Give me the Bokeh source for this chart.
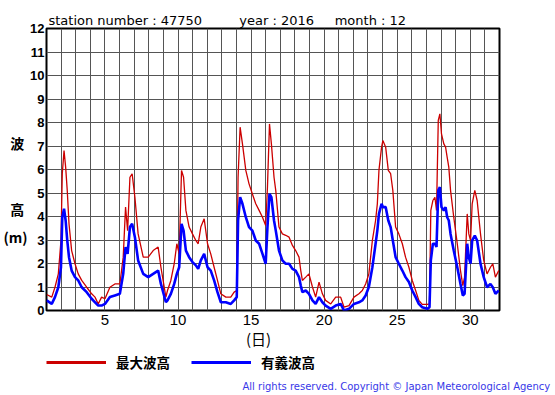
from bokeh.plotting import figure
from bokeh.models import Range1d, FixedTicker, LinearAxis, Legend, LegendItem, Title
from bokeh.layouts import column
from bokeh.embed import file_html
from bokeh.resources import INLINE

# ---- data ----
days = [1.01, 1.36, 1.58, 1.81, 1.99, 2.08, 2.20, 2.31, 2.42, 2.54, 2.72, 2.95, 3.17, 3.41, 3.75, 4.09,
        4.32, 4.54, 4.77, 5.00, 5.34, 5.68, 6.02, 6.25, 6.41, 6.55, 6.71, 6.86, 7.05, 7.27, 7.62, 7.96,
        8.30, 8.64, 8.83, 9.17, 9.28, 9.51, 9.74, 9.92, 10.08, 10.24, 10.38, 10.54, 10.76, 10.99, 11.22,
        11.38, 11.56, 11.79, 12.02, 12.24, 12.47, 12.70, 12.93, 13.27, 13.61, 13.84, 14.02, 14.11, 14.25,
        14.41, 14.64, 14.86, 15.09, 15.32, 15.55, 15.78, 16.00, 16.12, 16.26, 16.39, 16.57, 16.69, 16.91,
        17.14, 17.37, 17.60, 17.83, 18.05, 18.28, 18.40, 18.51, 18.74, 18.96, 19.20, 19.42, 19.65, 19.88,
        20.10, 20.45, 20.79, 21.13, 21.36, 21.70, 22.04, 22.38, 22.61, 22.84, 23.06, 23.30, 23.52, 23.64,
        23.75, 23.93, 24.02, 24.21, 24.39, 24.55, 24.70, 24.89, 25.11, 25.35, 25.57, 25.80, 26.03, 26.26,
        26.48, 26.71, 27.06, 27.21, 27.30, 27.44, 27.58, 27.69, 27.81, 27.92, 28.03, 28.19, 28.31, 28.42,
        28.53, 28.65, 28.87, 29.11, 29.33, 29.49, 29.61, 29.79, 29.90, 30.02, 30.13, 30.31, 30.47, 30.70,
        30.92, 31.15, 31.38, 31.54, 31.72, 31.95]

max_wave = [0.68, 0.57, 0.99, 1.56, 2.98, 5.82, 6.81, 6.10, 5.10, 3.69, 2.55, 1.99, 1.56, 1.28, 0.99, 0.71,
            0.57, 0.28, 0.57, 0.50, 0.99, 1.13, 1.13, 2.27, 4.40, 3.40, 5.67, 5.82, 4.82, 3.26, 2.27, 2.27,
            2.55, 2.70, 1.84, 0.57, 0.85, 1.28, 1.99, 2.84, 2.41, 5.96, 5.67, 4.26, 3.55, 3.26, 2.98,
            2.84, 3.55, 3.90, 2.84, 2.41, 1.84, 1.28, 0.71, 0.57, 0.57, 0.78, 0.85, 5.67, 7.80,
            7.09, 5.96, 5.39, 4.96, 4.54, 4.26, 3.97, 3.62, 5.25, 7.94, 7.09, 5.67, 5.10, 3.55,
            3.26, 3.20, 3.12, 2.77, 2.55, 2.27, 1.70, 1.28, 1.42, 1.56, 1.00, 0.57, 1.21, 0.71,
            0.43, 0.28, 0.57, 0.57, 0.14, 0.21, 0.57, 0.71, 0.85, 1.13, 1.56, 2.98, 3.83, 4.54,
            5.96, 6.95, 7.23, 6.95, 5.96, 5.82, 5.11, 3.55, 3.26, 2.84, 2.27, 1.84, 1.28, 0.85,
            0.43, 0.26, 0.26, 0.28, 4.26, 4.68, 4.82, 4.26, 8.09, 8.37, 7.52, 7.09, 6.95, 6.52,
            6.10, 5.11, 3.97, 2.84, 1.70, 1.06, 1.42, 4.11, 3.26, 2.98, 4.54, 5.11, 4.68, 3.26,
            2.13, 1.56, 1.84, 1.99, 1.42, 1.70]

sig_wave = [0.43, 0.28, 0.57, 0.99, 1.84, 3.97, 4.33, 3.83, 2.98, 2.27, 1.70, 1.42, 1.28, 0.99, 0.78, 0.50,
            0.35, 0.21, 0.21, 0.28, 0.57, 0.64, 0.71, 1.56, 2.70, 2.41, 3.55, 3.69, 3.12, 2.13, 1.56, 1.42,
            1.56, 1.70, 1.13, 0.35, 0.43, 0.71, 1.13, 1.56, 1.84, 3.69, 3.40, 2.55, 2.27, 2.06, 1.92,
            1.77, 2.13, 2.41, 1.84, 1.70, 1.28, 0.78, 0.35, 0.35, 0.28, 0.43, 0.57, 3.83, 4.82,
            4.54, 3.97, 3.55, 3.40, 2.98, 2.84, 2.41, 1.99, 3.55, 4.96, 4.82, 3.83, 3.40, 2.55,
            2.13, 1.99, 1.99, 1.77, 1.70, 1.42, 1.06, 0.78, 0.85, 0.71, 0.43, 0.28, 0.57, 0.35,
            0.21, 0.07, 0.21, 0.28, 0.00, 0.07, 0.28, 0.35, 0.43, 0.64, 1.00, 1.84, 2.84, 3.40,
            4.11, 4.54, 4.40, 4.40, 3.83, 3.55, 2.98, 2.27, 1.99, 1.70, 1.42, 1.21, 0.85, 0.57,
            0.28, 0.14, 0.07, 0.14, 2.13, 2.84, 2.84, 2.70, 5.11, 5.25, 4.40, 4.26, 4.40, 3.97,
            3.83, 3.26, 2.55, 1.84, 1.13, 0.64, 0.71, 2.84, 2.27, 1.99, 2.98, 3.19, 2.98, 1.99,
            1.42, 0.99, 1.13, 0.99, 0.71, 0.85]

x_ticks = [5, 10, 15, 20, 25, 30]
y_ticks = list(range(0, 13))
grid_days = list(range(1, 33))

title_text = "station number : 47750" + "\u00a0" * 9 + "year : 2016" + "\u00a0" * 5 + "month : 12"
y_label_pos = [7.13, 4.32, 3.11]
y_label_txt = ["波\u00a0", "高\u00a0", "(m)"]
x_label_pos = [15.51]
x_label_txt = ["(日)"]
legend_labels = ["最大波高", "有義波高"]
copyright_text = "All rights reserved. Copyright \u00a9 Japan Meteorological Agency"

RED = "#cc0000"
BLUE = "#0000ff"
NAN = float("nan")

p = figure(width=555, height=352, output_backend="svg", toolbar_location=None,
           x_range=Range1d(1, 32), y_range=Range1d(0, 12),
           min_border_left=45, min_border_right=56, min_border_top=28, min_border_bottom=42)
p.background_fill_color = "white"
p.border_fill_color = "white"
p.outline_line_color = "black"
p.outline_line_width = 2

# title
p.title.text = title_text
p.title.text_font = "DejaVu Sans"
p.title.text_font_size = "13px"
p.title.text_font_style = "normal"
p.title.text_color = "black"
p.title.align = "left"
p.title.offset = 2
p.title.standoff = 2

# grid
p.xgrid.ticker = FixedTicker(ticks=grid_days)
p.ygrid.ticker = FixedTicker(ticks=y_ticks)
for g in (p.xgrid, p.ygrid):
    g.grid_line_color = "#555555"
    g.grid_line_width = 1

def plain_axis(ax):
    ax.axis_line_color = None
    ax.major_tick_line_color = None
    ax.minor_tick_line_color = None
    ax.major_tick_out = 0
    ax.major_tick_in = 0
    ax.major_label_text_color = "black"

# main axes
p.xaxis.ticker = FixedTicker(ticks=x_ticks)
p.yaxis.ticker = FixedTicker(ticks=y_ticks)
for ax in (p.xaxis, p.yaxis):
    plain_axis(ax)
    ax.major_label_text_font = "Liberation Sans"
p.xaxis.major_label_text_font_size = "15px"
p.xaxis.major_label_standoff = 4
p.yaxis.major_label_text_font_size = "13px"
p.yaxis.major_label_text_font_style = "bold"
p.yaxis.major_label_standoff = 2

# y-axis caption as an outer axis (波 / 高 / (m))
yl = LinearAxis(ticker=FixedTicker(ticks=y_label_pos),
                major_label_overrides={k: v for k, v in zip(y_label_pos, y_label_txt)})
plain_axis(yl)
yl.major_label_text_font = "Noto Sans CJK JP"
yl.major_label_text_font_size = "14px"
yl.major_label_text_font_style = "bold"
yl.major_label_standoff = 0
p.add_layout(yl, "left")

# x-axis caption (日) as an outer axis
xl = LinearAxis(ticker=FixedTicker(ticks=x_label_pos),
                major_label_overrides={k: v for k, v in zip(x_label_pos, x_label_txt)})
plain_axis(xl)
xl.major_label_text_font = "Noto Sans CJK JP"
xl.major_label_text_font_size = "15px"
xl.major_label_standoff = 0
p.add_layout(xl, "below")

# data lines
p.line(days, max_wave, line_color=RED, line_width=1.3)
p.line(days, sig_wave, line_color=BLUE, line_width=2.6)

# ---- footer: legend + copyright (frame is aligned with the main frame) ----
FH = 43
f = figure(width=555, height=FH, output_backend="svg", toolbar_location=None,
           x_axis_type=None, y_axis_type=None,
           x_range=Range1d(0, 1), y_range=Range1d(0, 1),
           min_border_left=45, min_border_right=56, min_border_top=0, min_border_bottom=17)
f.grid.visible = False
f.outline_line_color = None
f.background_fill_color = "white"
f.border_fill_color = "white"

# legend keys: renderers with no visible point (legend draws their style only)
sw_max = f.line([NAN], [NAN], line_color=RED, line_width=3)
sw_sig = f.line([NAN], [NAN], line_color=BLUE, line_width=3)
legend = Legend(items=[LegendItem(label=legend_labels[0], renderers=[sw_max]),
                       LegendItem(label=legend_labels[1], renderers=[sw_sig])],
                orientation="horizontal", location=(0, 6),
                glyph_width=60, glyph_height=18, label_standoff=10, spacing=21,
                padding=0, margin=0, border_line_color=None, background_fill_alpha=0,
                label_text_font="Noto Sans CJK JP", label_text_font_size="13.5px",
                label_text_font_style="bold", label_text_color="black",
                label_height=18)
f.add_layout(legend)

cr = Title(text=copyright_text, align="left", offset=196, standoff=1,
           text_font="DejaVu Sans", text_font_size="10px", text_font_style="normal",
           text_color="#3838e8")
f.add_layout(cr, "below")

open("out.html", "w").write(file_html(column(p, f, spacing=0), INLINE))
